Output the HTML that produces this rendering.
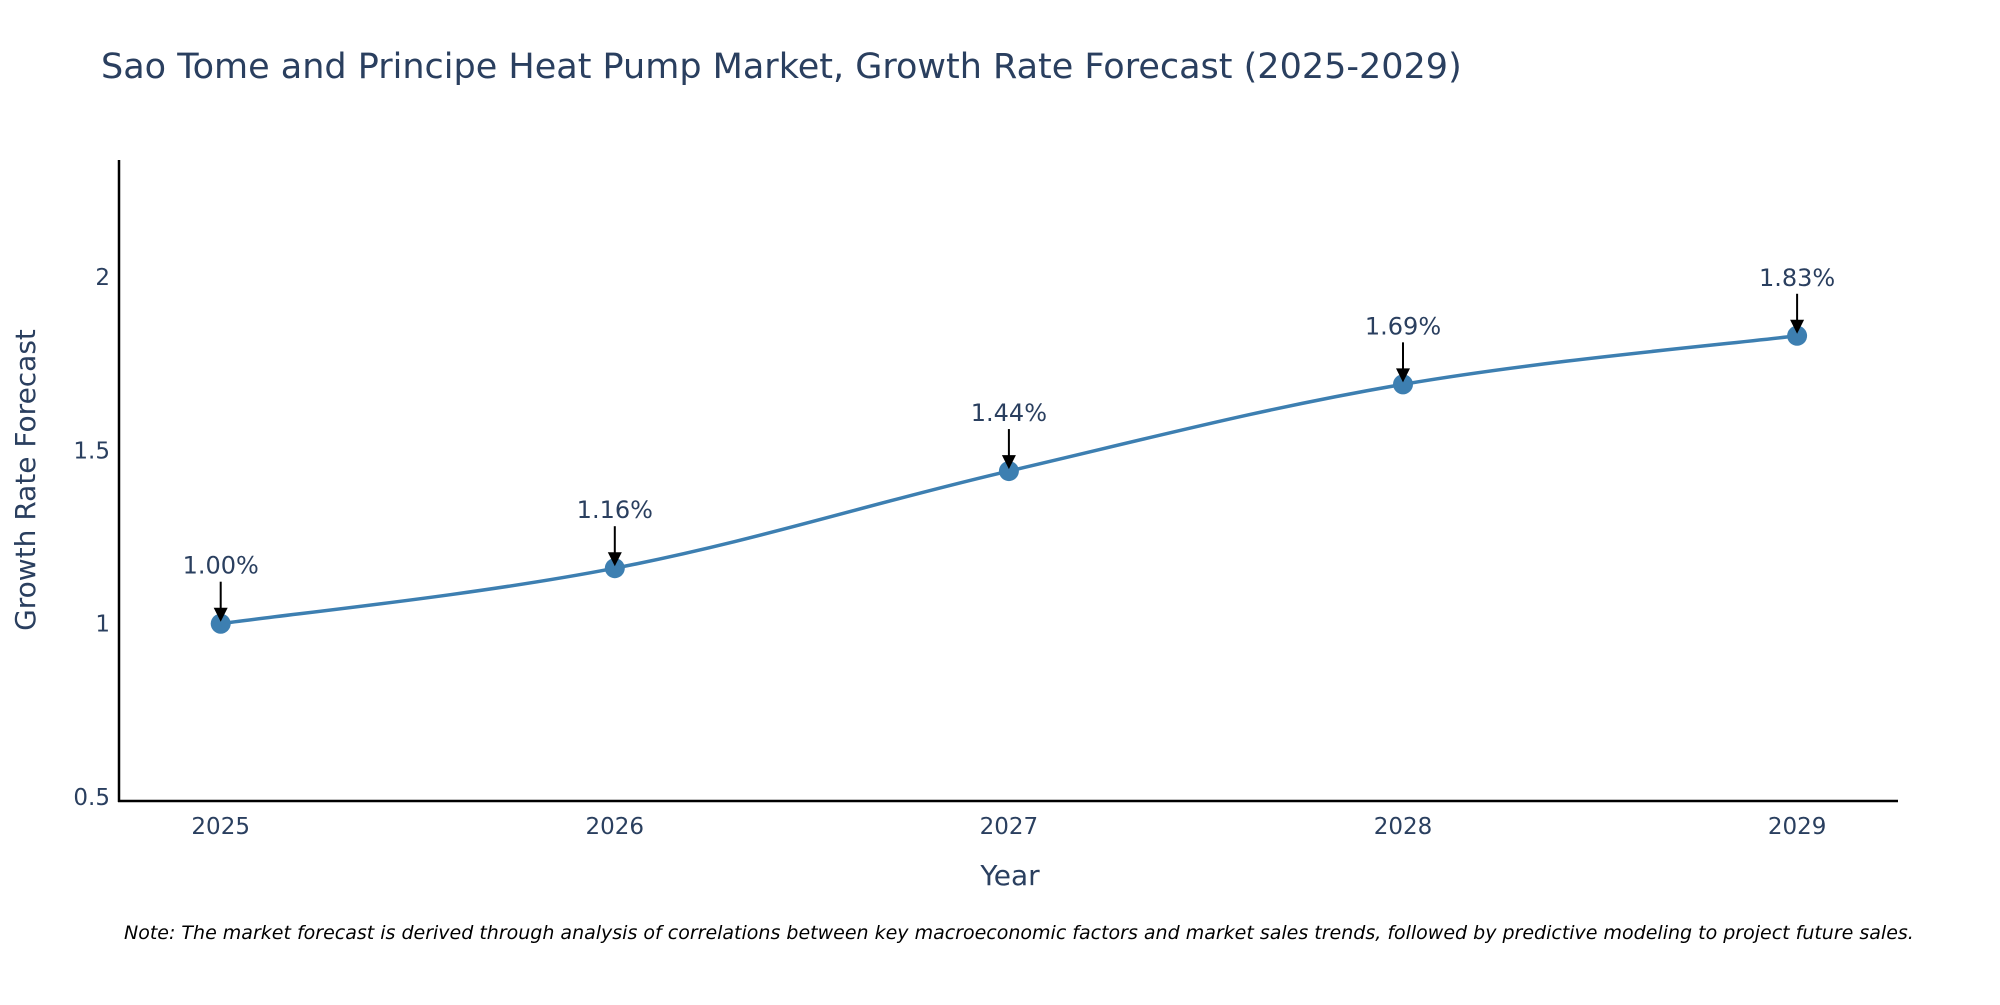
<!DOCTYPE html>
<html><head><meta charset="utf-8"><style>
body{margin:0;background:#fff;}
svg text{font-family:"DejaVu Sans","Liberation Sans",sans-serif;fill:#2a3f5f;}
</style></head><body>
<svg id="chart" width="2000" height="1000" viewBox="0 0 2000 1000" xmlns="http://www.w3.org/2000/svg">
<text x="101" y="78" font-size="35">Sao Tome and Principe Heat Pump Market, Growth Rate Forecast (2025-2029)</text>
<g id="yticks"></g>
<g id="xticks"></g>
<line x1="119" y1="160" x2="119" y2="802" stroke="#000" stroke-width="2.5"/>
<line x1="118" y1="801" x2="1898" y2="801" stroke="#000" stroke-width="2.5"/>
<path id="series" fill="none" stroke="#3d7fb1" stroke-width="3.5"/>
<g id="points"></g>
<g id="annos"></g>
<text x="1010" y="885" font-size="28" text-anchor="middle">Year</text>
<text transform="translate(35,480) rotate(-90)" font-size="28" text-anchor="middle">Growth Rate Forecast</text>
<text x="124" y="939" font-size="19" font-style="italic" style="fill:#000">Note: The market forecast is derived through analysis of correlations between key macroeconomic factors and market sales trends, followed by predictive modeling to project future sales.</text>
</svg>
<script>
const years=[2025,2026,2027,2028,2029];
const values=[1.00,1.16,1.44,1.69,1.83];
const labels=["1.00%","1.16%","1.44%","1.69%","1.83%"];
const yTicks=[0.5,1,1.5,2];
const yTickLabels=["0.5","1","1.5","2"];
const NS="http://www.w3.org/2000/svg";
const xs=v=>220.7+(v-2025)*394.1;
const ys=v=>623.7-(v-1)*346.9;
function mk(tag,attrs,parent,txt){const e=document.createElementNS(NS,tag);for(const k in attrs)e.setAttribute(k,attrs[k]);if(txt!==undefined)e.textContent=txt;parent.appendChild(e);return e;}
const yt=document.getElementById('yticks');
yTicks.forEach((t,i)=>{const e=mk('text',{x:110,y:ys(t)+8,'font-size':23,'text-anchor':'end'},yt,yTickLabels[i]);

});
const xt=document.getElementById('xticks');
years.forEach(y=>{const e=mk('text',{x:xs(y),y:834,'font-size':23,'text-anchor':'middle'},xt,String(y));

});
const P=years.map((y,i)=>[xs(y),ys(values[i])]);
let d=`M${P[0][0]},${P[0][1]}`;const s=0.18;
for(let i=0;i<P.length-1;i++){const p0=P[Math.max(0,i-1)],p1=P[i],p2=P[i+1],p3=P[Math.min(P.length-1,i+2)];
const c1=[p1[0]+(p2[0]-p0[0])*s,p1[1]+(p2[1]-p0[1])*s],c2=[p2[0]-(p3[0]-p1[0])*s,p2[1]-(p3[1]-p1[1])*s];
d+=` C${c1[0]},${c1[1]} ${c2[0]},${c2[1]} ${p2[0]},${p2[1]}`;}
document.getElementById('series').setAttribute('d',d);
const pts=document.getElementById('points'),an=document.getElementById('annos');
P.forEach((p,i)=>{const c=mk('circle',{cx:p[0],cy:p[1],r:10,fill:'#3d7fb1'},pts);


const l=mk('line',{x1:p[0],y1:p[1]-42,x2:p[0],y2:p[1]-14,stroke:'#000','stroke-width':2},an);


const h=mk('polygon',{points:`${p[0]-7},${p[1]-16} ${p[0]+7},${p[1]-16} ${p[0]},${p[1]-2}`,fill:'#000'},an);


const t=mk('text',{x:p[0],y:p[1]-50,'font-size':24,'text-anchor':'middle'},an,labels[i]);

});
</script>
</body></html>
